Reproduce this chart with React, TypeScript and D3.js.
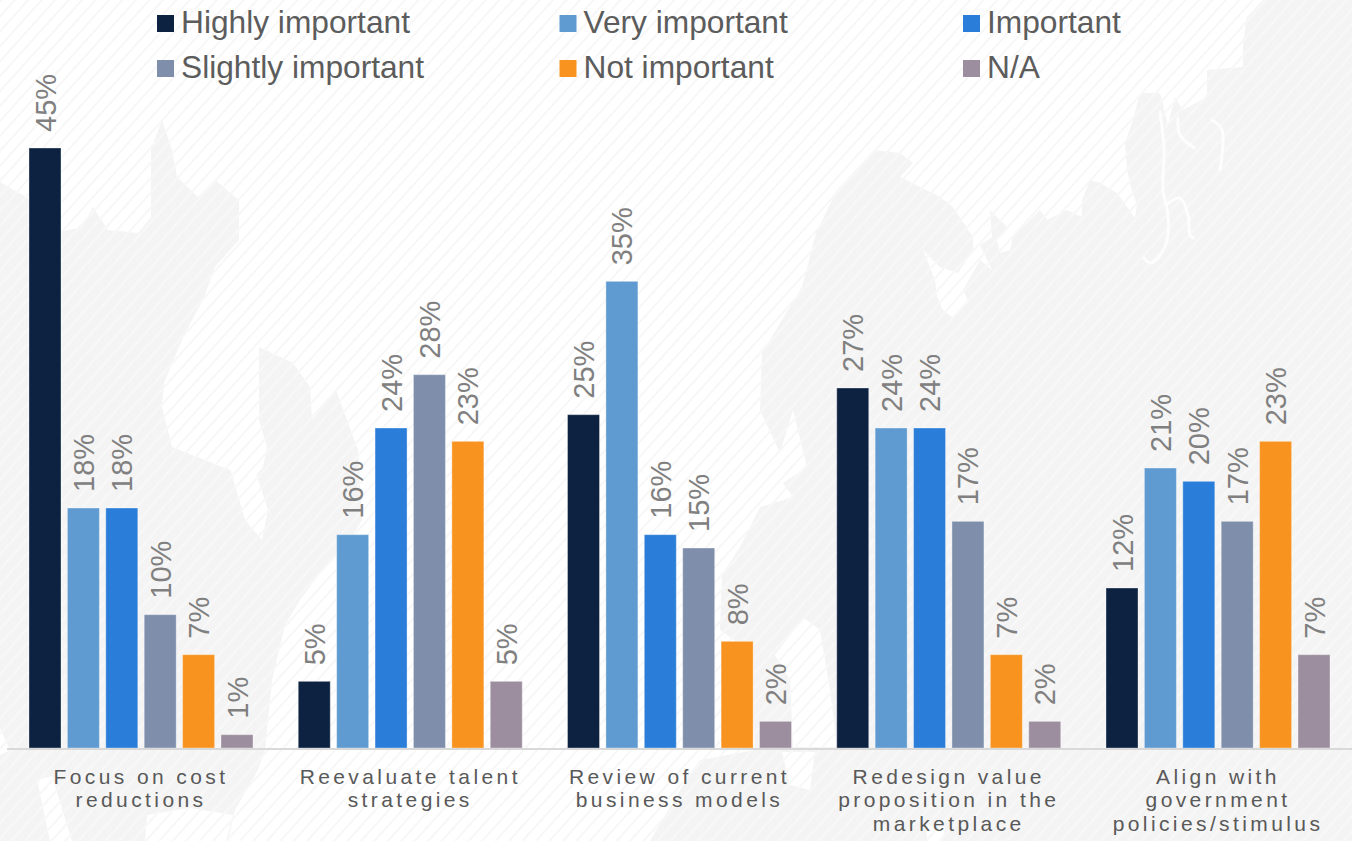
import React from "react";
import * as d3 from "d3";

const WIDTH = 1352;
const HEIGHT = 841;

const categories = [
  ["Focus on cost", "reductions"],
  ["Reevaluate talent", "strategies"],
  ["Review of current", "business models"],
  ["Redesign value", "proposition in the", "marketplace"],
  ["Align with", "government", "policies/stimulus"],
];

const seriesNames = ["Highly important", "Very important", "Important", "Slightly important", "Not important", "N/A"];
const seriesColors = ["#0d2240", "#5f9bd1", "#2a7dd8", "#7f8fab", "#f7931e", "#9d8e9f"];

const highlyImportant = [45, 5, 25, 27, 12];
const veryImportant = [18, 16, 35, 24, 21];
const important = [18, 24, 16, 24, 20];
const slightlyImportant = [10, 28, 15, 17, 17];
const notImportant = [7, 23, 8, 7, 23];
const notApplicable = [1, 5, 2, 2, 7];
const seriesValues = [highlyImportant, veryImportant, important, slightlyImportant, notImportant, notApplicable];

// Legend grid: three columns, two rows
const legendColumns = [157, 559.5, 963];
const legendRows = [15, 60];

// Backdrop world-map silhouette, in page coordinates
type Pt = [number, number];
const landWest: Pt[] = [
  [0, 182], [26, 197], [60, 232], [82, 227], [93, 207], [108, 230], [138, 233], [151, 217], [151, 177], [151, 150],
  [162, 120], [172, 150], [177, 177], [198, 197], [215, 180], [239, 200], [239, 240], [215, 267], [203, 300],
  [185, 333], [164, 383], [162, 407], [172, 447], [230, 470], [241, 493], [263, 467], [267, 447], [259, 420],
  [259, 347], [293, 363], [310, 387], [312, 420], [336, 390], [358, 450], [362, 520], [345, 548], [330, 560],
  [300, 600], [285, 625], [272, 680], [265, 750], [258, 770], [235, 810], [228, 841], [0, 841],
];
const landEast: Pt[] = [
  [1352, 0], [1263, 0], [1247, 17], [1243, 43], [1243, 67], [1207, 70], [1207, 97], [1183, 110], [1175, 97],
  [1168, 125], [1160, 93], [1140, 93], [1133, 120], [1125, 143], [1127, 170], [1131, 187], [1137, 205],
  [1135, 218], [1117, 193], [1100, 183], [1090, 180], [1082, 200], [1082, 217], [1067, 210], [1047, 220], [1040, 210],
  [1013, 237], [1010, 250], [1000, 253], [997, 240], [1007, 227], [990, 210], [992, 237], [980, 245], [992, 270],
  [980, 260], [963, 290], [968, 300], [953, 318], [943, 310], [937, 297], [935, 280], [923, 250], [940, 267],
  [958, 273], [973, 250], [973, 237], [953, 207], [940, 197], [920, 187], [900, 177], [913, 163], [900, 153],
  [874, 150], [837, 190], [816, 233], [802, 287], [762, 353], [760, 410], [780, 453], [793, 410], [807, 467],
  [783, 483], [793, 497], [760, 507], [740, 547], [722, 575], [720, 630], [748, 650], [755, 750], [700, 760],
  [680, 790], [650, 841], [1352, 841],
];
const landCuts: Pt[][] = [
  [[233, 478], [255, 470], [268, 510], [262, 540], [245, 520]],
  [[37, 780], [52, 776], [72, 841], [50, 841]],
  [[147, 815], [190, 808], [233, 815], [226, 841], [145, 841]],
  [[0, 728], [10, 750], [0, 755]],
  [[803, 617], [820, 630], [830, 690], [837, 747], [793, 747], [790, 680], [775, 655], [790, 635]],
  [[782, 752], [815, 752], [810, 790], [790, 785]],
  [[925, 825], [945, 827], [942, 841], [928, 841]],
];
const rivers: Pt[][] = [
  [[1160, 112], [1164, 150], [1163, 190], [1168, 215], [1167, 240], [1158, 258], [1150, 263], [1144, 258]],
  [[1166, 205], [1180, 198], [1188, 215], [1190, 235], [1193, 238]],
  [[1178, 118], [1180, 135], [1194, 148]],
  [[1212, 120], [1222, 130], [1220, 170]],
];

const xGroup = d3.scaleBand<number>().domain(d3.range(categories.length)).range([29, 1330]).paddingInner(45.25 / 269.25).paddingOuter(0);
const xBar = d3.scaleBand<number>().domain(d3.range(seriesNames.length)).range([0, xGroup.bandwidth()]).paddingInner(1 / 6);
const y = d3.scaleLinear().domain([0, 45]).range([748, 148]);
const outline = d3.line().curve(d3.curveLinearClosed);
const trace = d3.line().curve(d3.curveCatmullRom);
const percent = (v: number) => `${v}%`;
const FONT = "'Liberation Sans', Arial, sans-serif";

export default function App() {
  return (
    <svg
      width={WIDTH}
      height={HEIGHT}
      viewBox={`0 0 ${WIDTH} ${HEIGHT}`}
      style={{ position: "absolute", left: 0, top: 0, display: "block", background: "#fff" }}
      fontFamily={FONT}
    >
      <defs>
        <pattern id="seaHatch" width={10} height={10} patternUnits="userSpaceOnUse" patternTransform="rotate(42)">
          <rect width={2} height={10} fill="#f7f7f7" />
        </pattern>
        <pattern id="landHatch" width={10} height={10} patternUnits="userSpaceOnUse" patternTransform="rotate(42)">
          <rect width={10} height={10} fill="#f4f4f4" />
          <rect width={2} height={10} fill="#f8f8f8" />
        </pattern>
      </defs>

      {/* Backdrop */}
      <rect width={WIDTH} height={HEIGHT} fill="url(#seaHatch)" />
      {[landWest, landEast].map((pts, i) => (
        <path key={i} d={outline(pts) ?? ""} fill="url(#landHatch)" />
      ))}
      {landCuts.map((pts, i) => (
        <path key={i} d={outline(pts) ?? ""} fill="#fff" />
      ))}
      {landCuts.map((pts, i) => (
        <path key={i} d={outline(pts) ?? ""} fill="url(#seaHatch)" />
      ))}
      {rivers.map((pts, i) => (
        <path key={i} d={trace(pts) ?? ""} fill="none" stroke="#fdfdfd" strokeWidth={3} strokeLinecap="round" />
      ))}

      {/* Legend */}
      {seriesNames.map((name, i) => {
        const lx = legendColumns[i % 3];
        const ly = legendRows[Math.floor(i / 3)];
        return (
          <g key={name}>
            <rect x={lx} y={ly} width={17} height={17} fill={seriesColors[i]} />
            <text x={lx + 24} y={ly + 18} fontSize={31.7} fill="#5c5c5c">
              {name}
            </text>
          </g>
        );
      })}

      {/* Bars and their value labels */}
      {categories.map((_, g) => (
        <g key={g} transform={`translate(${xGroup(g)},0)`}>
          {seriesValues.map((values, s) => {
            const v = values[g];
            const bx = xBar(s) ?? 0;
            const cx = bx + xBar.bandwidth() / 2;
            return (
              <g key={s}>
                <rect
                  x={bx}
                  y={y(v)}
                  width={xBar.bandwidth()}
                  height={y(0) - y(v)}
                  fill={seriesColors[s]}
                  stroke="#fff"
                  strokeOpacity={0.35}
                  strokeWidth={1}
                />
                <text
                  transform={`translate(${cx + 10.5},${y(v) - 16}) rotate(-90)`}
                  fontSize={29}
                  fill="#808080"
                >
                  {percent(v)}
                </text>
              </g>
            );
          })}
        </g>
      ))}

      {/* Category axis */}
      <line x1={7} x2={WIDTH} y1={749} y2={749} stroke="#d9d9d9" strokeWidth={2} />
      {categories.map((lines, g) => (
        <text key={g} fontSize={21} letterSpacing={3.4} textAnchor="middle" fill="#595959">
          {lines.map((line, i) => (
            <tspan key={line} x={(xGroup(g) ?? 0) + xGroup.bandwidth() / 2} y={783.5 + i * 23.8}>
              {line}
            </tspan>
          ))}
        </text>
      ))}
    </svg>
  );
}
